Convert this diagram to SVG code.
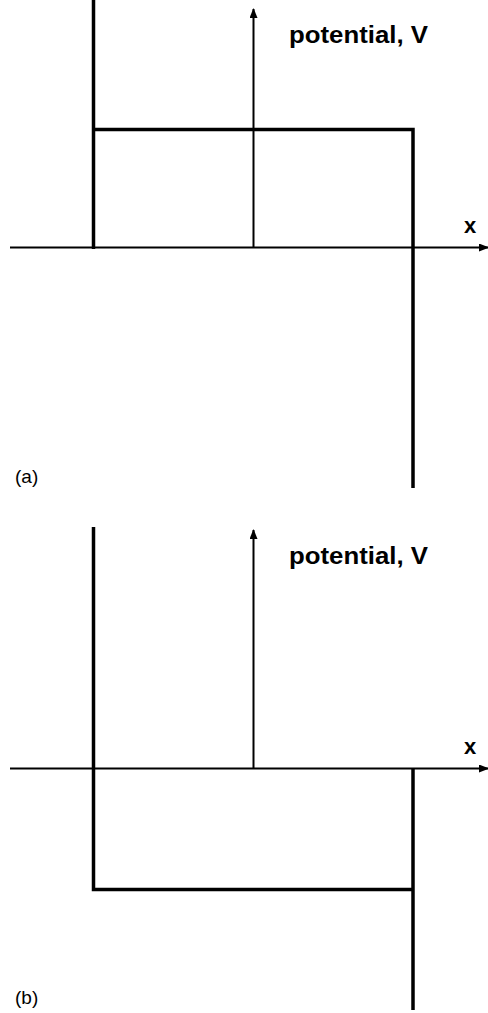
<svg xmlns="http://www.w3.org/2000/svg" width="488" height="1013" viewBox="0 0 488 1013">
<style>
.ax{stroke:#000;stroke-width:2;fill:none}
.th{stroke:#000;stroke-width:3.5;fill:none}
.lab{font-family:"Liberation Sans",Arial,sans-serif;font-weight:bold;fill:#000}
.cap{font-family:"Liberation Sans",Arial,sans-serif;fill:#000;font-size:19px}
</style>
<defs>
<marker id="ah" viewBox="0 0 10 8" refX="9" refY="4" markerWidth="10" markerHeight="8" markerUnits="userSpaceOnUse" orient="auto">
<path d="M0,0 L10,4 L0,8 Z" fill="#000"/>
</marker>
</defs>
<g id="panel-a">
<g id="connectors-a">
<line class="ax" x1="10" y1="247.5" x2="488" y2="247.5" marker-end="url(#ah)"/>
<line class="ax" x1="253.5" y1="247.5" x2="253.5" y2="9" marker-end="url(#ah)"/>
</g>
<g id="potential-a">
<polyline class="th" points="93.5,0 93.5,249"/>
<polyline class="th" points="93.5,129.5 413,129.5 413,488"/>
</g>
<text class="lab" x="289" y="43" font-size="24" textLength="139" lengthAdjust="spacingAndGlyphs">potential, V</text>
<text class="lab" x="464" y="233" font-size="22">x</text>
<text class="cap" x="15" y="483">(a)</text>
</g>
<g id="panel-b">
<g id="connectors-b">
<line class="ax" x1="10" y1="768.5" x2="488" y2="768.5" marker-end="url(#ah)"/>
<line class="ax" x1="253.5" y1="768.5" x2="253.5" y2="530" marker-end="url(#ah)"/>
</g>
<g id="potential-b">
<polyline class="th" points="93.5,527 93.5,889.5 413,889.5"/>
<polyline class="th" points="413,768.5 413,1010"/>
</g>
<text class="lab" x="289" y="564" font-size="24" textLength="139" lengthAdjust="spacingAndGlyphs">potential, V</text>
<text class="lab" x="464" y="754" font-size="22">x</text>
<text class="cap" x="15" y="1004">(b)</text>
</g>
</svg>
